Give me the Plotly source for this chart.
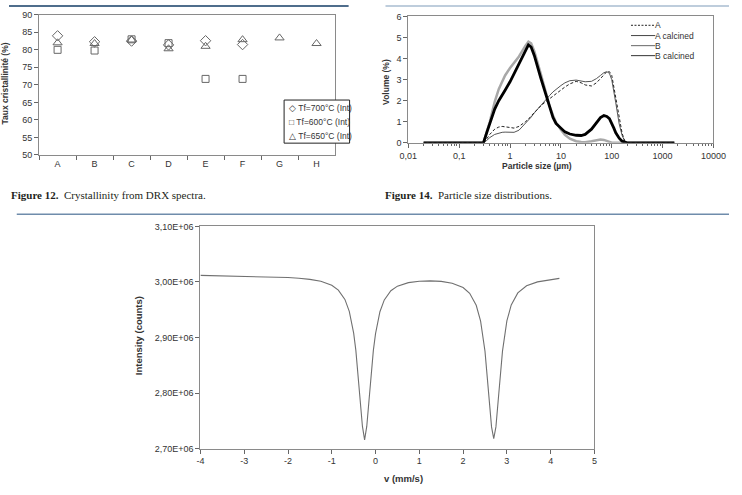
import plotly.graph_objects as go

W, H = 742, 495

# ---------------- Figure 12 data ----------------
CATS = ["A", "B", "C", "D", "E", "F", "G", "H"]
T700 = [84.0, 82.3, 82.5, 81.4, 82.6, 81.5]
T600 = [80.0, 79.8, 83.0, 81.9, 71.7, 71.7]
T650 = [82.0, 81.8, 82.8, 80.3, 81.0, 82.9, 83.4, 81.8]
Y1_TICKS = [50, 55, 60, 65, 70, 75, 80, 85, 90]

# ---------------- Figure 14 data ----------------
SIZE = [0.02, 0.05, 0.1, 0.2, 0.3, 0.35, 0.4, 0.5, 0.6, 0.7, 0.8, 1.0, 1.2, 1.5, 2.0,
        2.3, 2.6, 3.0, 4.0, 5.0, 6.0, 7.0, 8.0, 10, 12, 15, 20, 25, 30, 40,
        50, 60, 70, 80, 90, 100, 110, 120, 140, 160, 180, 200, 300, 500, 1000, 1700]
VOL_A = [0, 0, 0, 0, 0, 0.2, 0.4, 0.65, 0.75, 0.78, 0.77, 0.73, 0.7, 0.78, 1.0,
         1.12, 1.28, 1.45, 1.75, 1.95, 2.1, 2.25, 2.35, 2.5, 2.65, 2.8, 2.92, 2.85, 2.75, 2.7,
         2.85, 3.05, 3.25, 3.38, 3.38, 3.2, 2.65, 2.1, 1.1, 0.45, 0.1, 0, 0, 0, 0, 0]
VOL_A_CAL = [0, 0, 0, 0, 0, 0.12, 0.25, 0.4, 0.47, 0.5, 0.51, 0.5, 0.5, 0.6, 0.9,
             1.05, 1.22, 1.42, 1.78, 2.05, 2.25, 2.42, 2.55, 2.72, 2.85, 2.95, 2.98, 2.93, 2.9, 2.92,
             3.05, 3.2, 3.33, 3.38, 3.3, 3.0, 2.5, 1.9, 0.9, 0.35, 0.08, 0, 0, 0, 0, 0]
VOL_B = [0, 0, 0, 0, 0, 0.55, 1.0, 1.95, 2.55, 2.9, 3.2, 3.55, 3.78, 4.1, 4.6,
         4.8, 4.72, 4.35, 3.3, 2.45, 1.75, 1.3, 0.98, 0.62, 0.38, 0.2, 0.08, 0.04, 0.03, 0.08,
         0.14, 0.16, 0.14, 0.08, 0.04, 0.01, 0, 0, 0, 0, 0, 0, 0, 0, 0, 0]
VOL_B_CAL = [0, 0, 0, 0, 0, 0.5, 0.95, 1.6, 2.0, 2.3, 2.5, 2.9, 3.28, 3.75, 4.4,
             4.65, 4.55, 4.15, 3.1, 2.3, 1.65, 1.2, 0.92, 0.68, 0.52, 0.42, 0.36, 0.35, 0.4, 0.65,
             0.98, 1.2, 1.3, 1.25, 1.15, 0.95, 0.7, 0.48, 0.22, 0.08, 0.02, 0, 0, 0, 0, 0]
X2_TICKVALS = [0.01, 0.1, 1, 10, 100, 1000, 10000]
X2_TICKTEXT = ["0,01", "0,1", "1", "10", "100", "1000", "10000"]
X2_MINOR = [m * d for d in [0.01, 0.1, 1, 10, 100, 1000] for m in range(2, 10)]

# ---------------- Mossbauer data ----------------
V = [-4, -3.5, -3, -2.5, -2, -1.75, -1.5, -1.25, -1.0, -0.85, -0.7, -0.6, -0.5, -0.45, -0.4,
     -0.35, -0.3, -0.25, -0.2, -0.15, -0.1, -0.05, 0.0, 0.1, 0.2, 0.35, 0.5, 0.75, 1.0, 1.25,
     1.5, 1.75, 2.0, 2.15, 2.3, 2.4, 2.5, 2.55, 2.6, 2.65, 2.7, 2.75, 2.8, 2.85, 2.9,
     3.0, 3.1, 3.25, 3.45, 3.7, 4.0, 4.2]
COUNTS = [3011800, 3011000, 3010300, 3009400, 3008000, 3006700, 3004700, 3001300, 2994000, 2985400,
          2968600, 2947200, 2907900, 2876800, 2835600, 2786100, 2740300, 2715500, 2740300, 2786100,
          2835600, 2876800, 2907000, 2946400, 2967700, 2984200, 2992500, 2998800, 3001400, 3001900,
          3001000, 2997700, 2989900, 2979500, 2958000, 2929300, 2875500, 2834300, 2784800, 2739000,
          2718000, 2739000, 2784800, 2834300, 2875500, 2929800, 2958600, 2980300, 2993100, 3000100,
          3004100, 3006500]
X3_TICKVALS = [-4, -3, -2, -1, 0, 1, 2, 3, 4, 5]
X3_TICKTEXT = ["-4", "-3", "-2", "-1", "0", "1", "2", "3", "4", "5"]
Y3_TICKVALS = [2700000, 2800000, 2900000, 3000000, 3100000]
Y3_TICKTEXT = ["2,70E+06", "2,80E+06", "2,90E+06", "3,00E+06", "3,10E+06"]


def px(x):
    return x / W


def py(y):
    return 1 - y / H


TICKFONT = dict(family="Arial, Liberation Sans, sans-serif", size=9, color="#333")
AX = dict(showgrid=False, zeroline=False, showline=True, linecolor="#8a8a8a", linewidth=1,
          mirror=True, ticks="outside", ticklen=4, tickcolor="#666", tickfont=TICKFONT)

fig = go.Figure()

# Figure 12 traces
fig.add_trace(go.Scatter(x=CATS[:len(T700)], y=T700, mode="markers", name="Tf=700°C (Int)",
                         marker=dict(symbol="diamond-open", size=8, color="#666", line=dict(width=1)),
                         xaxis="x", yaxis="y", showlegend=False))
fig.add_trace(go.Scatter(x=CATS[:len(T600)], y=T600, mode="markers", name="Tf=600°C (Int)",
                         marker=dict(symbol="square-open", size=7, color="#666", line=dict(width=1)),
                         xaxis="x", yaxis="y", showlegend=False))
fig.add_trace(go.Scatter(x=CATS, y=T650, mode="markers", name="Tf=650°C (Int)",
                         marker=dict(symbol="triangle-up-open", size=8, color="#666", line=dict(width=1)),
                         xaxis="x", yaxis="y", showlegend=False))

# Figure 14 traces
fig.add_trace(go.Scatter(x=SIZE, y=VOL_B, mode="lines", name="B",
                         line=dict(color="#a8a8a8", width=2.5), xaxis="x2", yaxis="y2", showlegend=False))
fig.add_trace(go.Scatter(x=SIZE, y=VOL_A_CAL, mode="lines", name="A calcined",
                         line=dict(color="#555", width=1), xaxis="x2", yaxis="y2", showlegend=False))
fig.add_trace(go.Scatter(x=SIZE, y=VOL_A, mode="lines", name="A",
                         line=dict(color="#222", width=1, dash="3px,2px"), xaxis="x2", yaxis="y2", showlegend=False))
fig.add_trace(go.Scatter(x=SIZE, y=VOL_B_CAL, mode="lines", name="B calcined",
                         line=dict(color="#000", width=2.8), xaxis="x2", yaxis="y2", showlegend=False))
# invisible trace to activate minor-tick overlay axis
fig.add_trace(go.Scatter(x=[X2_TICKVALS[0]], y=[0], mode="markers", marker=dict(opacity=0),
                         xaxis="x4", yaxis="y2", showlegend=False, hoverinfo="skip"))

# Mossbauer trace
fig.add_trace(go.Scatter(x=V, y=COUNTS, mode="lines", name="spectrum",
                         line=dict(color="#707070", width=1.1), xaxis="x3", yaxis="y3", showlegend=False))

fig.update_layout(
    width=W, height=H, autosize=False,
    margin=dict(l=0, r=0, t=0, b=0),
    paper_bgcolor="white", plot_bgcolor="white",
    showlegend=False,
    xaxis=dict(AX, domain=[px(31), px(336)], anchor="y", type="category",
               categoryorder="array", categoryarray=CATS, range=[-0.5, 7.5], tickson="boundaries"),
    yaxis=dict(AX, domain=[py(153), py(10)], anchor="x", range=[50, 90], tickvals=Y1_TICKS),
    xaxis2=dict(AX, domain=[px(411.5), px(726)], anchor="y2", type="log", range=[-2, 4],
                tickvals=X2_TICKVALS, ticktext=X2_TICKTEXT),
    xaxis4=dict(overlaying="x2", anchor="y2", side="bottom", type="log", range=[-2, 4],
                tickvals=X2_MINOR, showticklabels=False, ticks="outside", ticklen=2.5,
                tickcolor="#666", showgrid=False, zeroline=False, showline=False),
    yaxis2=dict(AX, domain=[py(140.7), py(11.7)], anchor="x2", range=[0, 6], dtick=1),
    xaxis3=dict(AX, domain=[px(197.3), px(603.3)], anchor="y3", range=[-4, 5],
                tickvals=X3_TICKVALS, ticktext=X3_TICKTEXT),
    yaxis3=dict(AX, domain=[py(452.7), py(226)], anchor="x3", range=[2700000, 3100000],
                tickvals=Y3_TICKVALS, ticktext=Y3_TICKTEXT),
)

shapes = []
# top rules and separator
shapes.append(dict(type="line", xref="paper", yref="paper", x0=0, x1=px(350), y0=py(1), y1=py(1),
                   line=dict(color="#4f6d8c", width=2)))
shapes.append(dict(type="line", xref="paper", yref="paper", x0=px(388), x1=1, y0=py(1), y1=py(1),
                   line=dict(color="#a9bcd0", width=1.5)))
shapes.append(dict(type="line", xref="paper", yref="paper", x0=px(8), x1=1, y0=py(213.5), y1=py(213.5),
                   line=dict(color="#6f8cab", width=1.5)))
# Figure 12 legend box
shapes.append(dict(type="rect", xref="paper", yref="paper", x0=px(283.5), x1=px(351), y0=py(141), y1=py(97),
                   fillcolor="white", line=dict(color="#222", width=1), layer="above"))
# Figure 14 legend line samples
LEG2_Y = [20.7, 31.2, 41.5, 51.7]
LEG2_STY = [dict(color="#222", width=1, dash="2px,1.5px"), dict(color="#444", width=1),
            dict(color="#666", width=1), dict(color="#333", width=1)]
for yy, st in zip(LEG2_Y, LEG2_STY):
    shapes.append(dict(type="line", xref="paper", yref="paper", x0=px(641), x1=px(666), y0=py(yy), y1=py(yy),
                       line=st))
fig.update_layout(shapes=shapes)

ann = []
LEGFONT = dict(family="Arial, Liberation Sans, sans-serif", size=8.5, color="#333")
# Figure 12 legend text
for yy, txt in zip([104.7, 119, 133.3], ["◇ Tf=700°C (Int)", "□ Tf=600°C (Int)", "△ Tf=650°C (Int)"]):
    ann.append(dict(x=px(286), y=py(yy), xref="paper", yref="paper", text=txt, showarrow=False,
                    xanchor="left", yanchor="middle", font=LEGFONT))
# Figure 14 legend text
for yy, txt in zip(LEG2_Y, ["A", "A calcined", "B", "B calcined"]):
    ann.append(dict(x=px(664), y=py(yy), xref="paper", yref="paper", text=txt, showarrow=False,
                    xanchor="left", yanchor="middle", font=LEGFONT))
# axis titles
TF = dict(family="Arial, Liberation Sans, sans-serif", size=8.5, color="#333")
ann.append(dict(x=px(-4), y=py(80), xref="paper", yref="paper", text="<b>Taux cristallinité (%)</b>",
                textangle=-90, showarrow=False, xanchor="center", yanchor="middle", font=TF))
ann.append(dict(x=px(389), y=py(78), xref="paper", yref="paper", text="<b>Volume (%)</b>",
                textangle=-90, showarrow=False, xanchor="center", yanchor="middle", font=TF))
ann.append(dict(x=px(544), y=py(164), xref="paper", yref="paper", text="<b>Particle size (µm)</b>",
                showarrow=False, xanchor="center", yanchor="middle", font=TF))
ann.append(dict(x=px(133), y=py(338), xref="paper", yref="paper", text="<b>Intensity (counts)</b>",
                textangle=-90, showarrow=False, xanchor="center", yanchor="middle",
                font=dict(TF, size=9.5)))
ann.append(dict(x=px(407), y=py(483), xref="paper", yref="paper", text="<b>v (mm/s)</b>",
                showarrow=False, xanchor="center", yanchor="middle", font=dict(TF, size=9.5)))
# captions
CAPFONT = dict(family="Liberation Serif, Times New Roman, serif", size=11, color="#231f20")
ann.append(dict(x=0, y=py(193.5), xref="paper", yref="paper",
                text="<b>Figure 12.</b>\u00a0\u00a0Crystallinity from DRX spectra.",
                showarrow=False, xanchor="left", yanchor="middle", font=CAPFONT))
ann.append(dict(x=px(385), y=py(193.5), xref="paper", yref="paper",
                text="<b>Figure 14.</b>\u00a0\u00a0Particle size distributions.",
                showarrow=False, xanchor="left", yanchor="middle", font=CAPFONT))
fig.update_layout(annotations=ann)

fig.write_html("out.html")
